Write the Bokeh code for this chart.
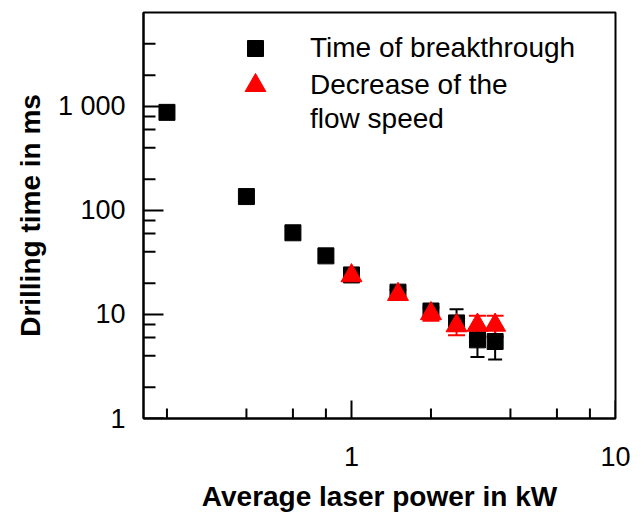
import math
from bokeh.plotting import figure
from bokeh.models import (ColumnDataSource, Whisker, TeeHead, FixedTicker,
                          Legend, LegendItem, BasicTickFormatter)
from bokeh.embed import file_html
from bokeh.resources import INLINE

# ---- data ----
power_breakthrough = [0.2, 0.4, 0.6, 0.8, 1.0, 1.5, 2.0, 2.5, 3.0, 3.5]
time_breakthrough = [877, 136, 61, 36.6, 24.0, 16.4, 10.8, 8.3, 5.7, 5.5]
err_low_breakthrough = [50, 10, 4, 2, 1.5, 1.2, 1.0, 1.0, 1.8, 1.8]
err_high_breakthrough = [50, 10, 4, 2, 1.5, 1.2, 1.0, 2.9, 1.8, 1.8]

power_flow = [1.0, 1.5, 2.0, 2.5, 3.0, 3.5]
time_flow = [23.6, 15.6, 10.2, 7.8, 7.9, 7.9]
err_flow = [2.3, 1.7, 1.5, 1.5, 1.8, 1.8]

x_major_ticks = [1, 10]
x_minor_ticks = [0.2, 0.4, 0.6, 0.8, 2, 4, 6, 8]
x_tick_labels = ["1", "10"]
y_major_ticks = [1, 10, 100, 1000]
y_minor_ticks = [2, 4, 6, 8, 20, 40, 60, 80, 200, 400, 600, 800, 2000, 4000]
y_tick_labels = ["1", "10", "100", "1 000"]

label_breakthrough = "Time of breakthrough"
label_flow_1 = "Decrease of the"
label_flow_2 = "flow speed"
x_title = "Average laser power in kW"
y_title = "Drilling time in ms"

FONT = "Liberation Sans"
X_START, X_END = 0.163, 10
Y_START, Y_END = 1, 8000

p = figure(width=633, height=514, x_axis_type="log", y_axis_type="log",
           x_range=(X_START, X_END), y_range=(Y_START, Y_END),
           output_backend="svg", toolbar_location=None,
           min_border_left=143, min_border_right=18,
           min_border_top=12, min_border_bottom=90)

p.xgrid.visible = False
p.ygrid.visible = False
p.outline_line_color = "black"
p.outline_line_width = 2
p.outline_line_alpha = 1

# axes
p.xaxis.ticker = FixedTicker(ticks=x_major_ticks, minor_ticks=x_minor_ticks)
p.yaxis.ticker = FixedTicker(ticks=y_major_ticks, minor_ticks=y_minor_ticks)
p.xaxis.formatter = BasicTickFormatter()
p.yaxis.formatter = BasicTickFormatter()
p.xaxis.major_label_overrides = {t: l for t, l in zip(x_major_ticks, x_tick_labels)}
p.yaxis.major_label_overrides = {t: l for t, l in zip(y_major_ticks, y_tick_labels)}

for ax in (p.xaxis[0], p.yaxis[0]):
    ax.axis_line_color = "black"
    ax.axis_line_width = 2
    ax.major_tick_line_color = None
    ax.minor_tick_line_color = None
    ax.major_tick_out = 0
    ax.minor_tick_out = 0
    ax.major_tick_in = 0
    ax.minor_tick_in = 0
    ax.major_label_text_font = FONT
    ax.major_label_text_font_size = "27px"
    ax.major_label_text_color = "black"
    ax.axis_label_text_font = FONT
    ax.axis_label_text_font_size = "28px"
    ax.axis_label_text_font_style = "bold"
    ax.axis_label_text_color = "black"

p.xaxis.major_label_standoff = 28
p.yaxis.major_label_standoff = 18
p.xaxis.axis_label = x_title
p.yaxis.axis_label = y_title
p.xaxis.axis_label_standoff = 12
p.yaxis.axis_label_standoff = 9

# inward tick marks (drawn as screen-length rays from the axes)
tick_kw = dict(length_units="screen", line_color="black", line_width=2,
               line_cap="butt")
p.ray(x=[X_START] * len(y_major_ticks), y=y_major_ticks, length=20, angle=0, **tick_kw)
p.ray(x=[X_START] * len(y_minor_ticks), y=y_minor_ticks, length=12, angle=0, **tick_kw)
p.ray(x=x_major_ticks, y=[Y_START] * len(x_major_ticks), length=18, angle=math.pi / 2, **tick_kw)
p.ray(x=x_minor_ticks, y=[Y_START] * len(x_minor_ticks), length=10, angle=math.pi / 2, **tick_kw)

# error bars + markers
src_b = ColumnDataSource(dict(
    x=power_breakthrough, y=time_breakthrough,
    lower=[v - e for v, e in zip(time_breakthrough, err_low_breakthrough)],
    upper=[v + e for v, e in zip(time_breakthrough, err_high_breakthrough)]))
src_f = ColumnDataSource(dict(
    x=power_flow, y=time_flow,
    lower=[v - e for v, e in zip(time_flow, err_flow)],
    upper=[v + e for v, e in zip(time_flow, err_flow)]))

wb = Whisker(source=src_b, base="x", upper="upper", lower="lower",
             line_color="black", line_width=2,
             upper_head=TeeHead(size=14, line_color="black", line_width=2),
             lower_head=TeeHead(size=14, line_color="black", line_width=2))
p.add_layout(wb)
r_sq = p.scatter("x", "y", source=src_b, marker="square", size=16,
                 fill_color="black", line_color="black")

wf = Whisker(source=src_f, base="x", upper="upper", lower="lower",
             line_color="red", line_width=2,
             upper_head=TeeHead(size=17, line_color="red", line_width=2),
             lower_head=TeeHead(size=17, line_color="red", line_width=2))
p.add_layout(wf)
r_tri = p.scatter("x", "y", source=src_f, marker="triangle", size=21,
                  fill_color="red", line_color="red")

# an empty, invisible renderer for the second line of the legend label
r_blank = p.scatter(x=[], y=[], marker="square", size=1, fill_alpha=0, line_alpha=0)

leg_common = dict(border_line_color=None, background_fill_alpha=0, padding=0,
                  spacing=0, margin=0, label_height=34,
                  label_text_font=FONT, label_text_font_size="28px",
                  label_text_color="black")

leg_a = Legend(items=[LegendItem(label=label_breakthrough, renderers=[r_sq])],
               location=(92, 350), glyph_width=40, glyph_height=40,
               label_standoff=35, **leg_common)
leg_b = Legend(items=[LegendItem(label=label_flow_1, renderers=[r_tri])],
               location=(86, 307), glyph_width=52, glyph_height=52,
               label_standoff=29, **leg_common)
leg_c = Legend(items=[LegendItem(label=label_flow_2, renderers=[r_blank])],
               location=(86, 282), glyph_width=52, glyph_height=10,
               label_standoff=29, **leg_common)
for lg in (leg_a, leg_b, leg_c):
    p.add_layout(lg)

open("out.html", "w").write(file_html(p, INLINE))
